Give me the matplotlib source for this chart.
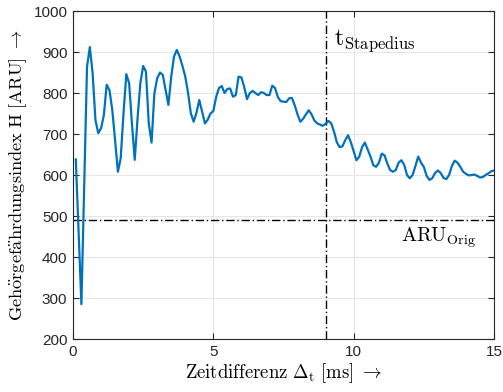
import numpy as np
import matplotlib
matplotlib.use("Agg")
import matplotlib.pyplot as plt

plt.rcParams['mathtext.fontset'] = 'cm'

# time difference in ms (0.1 ms steps)
t_ms = np.round(np.arange(1, 151) * 0.1, 1)
aru = [
    638, 462, 285, 575, 864, 912, 848, 734, 702, 714,
    746, 820, 807, 759, 685, 608, 641, 750, 846, 824,
    726, 637, 738, 824, 866, 852, 726, 679, 799, 836,
    850, 844, 807, 771, 840, 889, 905, 889, 866, 840,
    800, 750, 730, 752, 783, 755, 726, 735, 750, 756,
    790, 812, 817, 800, 810, 811, 791, 795, 840, 838,
    815, 785, 800, 805, 800, 795, 802, 800, 795, 795,
    818, 812, 790, 780, 779, 778, 787, 788, 770, 748,
    730, 737, 748, 758, 748, 733, 726, 723, 720, 725,
    732, 726, 706, 680, 668, 670, 685, 697, 680, 658,
    636, 645, 668, 679, 662, 645, 624, 620, 630, 652,
    648, 628, 612, 608, 612, 630, 636, 625, 600, 592,
    600, 622, 645, 630, 620, 598, 588, 592, 605, 611,
    605, 593, 590, 600, 622, 635, 630, 620, 608, 603,
    599, 600, 601, 598, 594, 595, 600, 604, 609, 611,
]
aru_orig = 490
t_stapedius = 9.0

x_ticks = [0, 5, 10, 15]
y_ticks = [200, 300, 400, 500, 600, 700, 800, 900, 1000]

fig = plt.figure(figsize=(5.03, 3.92), dpi=100)
ax = fig.add_axes([0.1451, 0.1352, 0.8370, 0.8367])

ax.plot(t_ms, aru, color='#0072BD', lw=1.6, zorder=3)
ax.axhline(aru_orig, color='black', lw=1.0, ls='-.', dashes=(6, 2, 1, 2), zorder=2)
ax.axvline(t_stapedius, color='black', lw=1.0, ls='-.', dashes=(6, 2, 1, 2), zorder=2)

ax.set_xlim(0, 15)
ax.set_ylim(200, 1000)
ax.set_xticks(x_ticks)
ax.set_yticks(y_ticks)
ax.grid(True, color='#e6e6e6', lw=0.8)
ax.set_axisbelow(True)
ax.tick_params(direction='in', top=True, right=True, length=4, width=0.8,
               color='#262626', labelsize=11, labelcolor='#262626', pad=4)
for lab in ax.get_xticklabels() + ax.get_yticklabels():
    lab.set_family('Liberation Sans')
for s in ax.spines.values():
    s.set_color('#262626')
    s.set_linewidth(0.8)

ax.set_xlabel(r'$\mathrm{Zeitdifferenz}\ \Delta_{\mathrm{t}}\ [\mathrm{ms}]\ \rightarrow$', fontsize=13.5, labelpad=2)
ax.set_ylabel(r'$\mathrm{Geh\ddot{o}rgef\ddot{a}hrdungsindex\ H}\ [\mathrm{ARU}]\ \rightarrow$', fontsize=13.2, labelpad=3)

ax.text(9.3, 917, r'$\mathrm{t}_{\mathrm{Stapedius}}$', fontsize=17, ha='left', va='baseline')
ax.text(14.38, 437, r'$\mathrm{ARU}_{\mathrm{Orig}}$', fontsize=14.5, ha='right', va='baseline')

fig.savefig('out.png', dpi=100)
